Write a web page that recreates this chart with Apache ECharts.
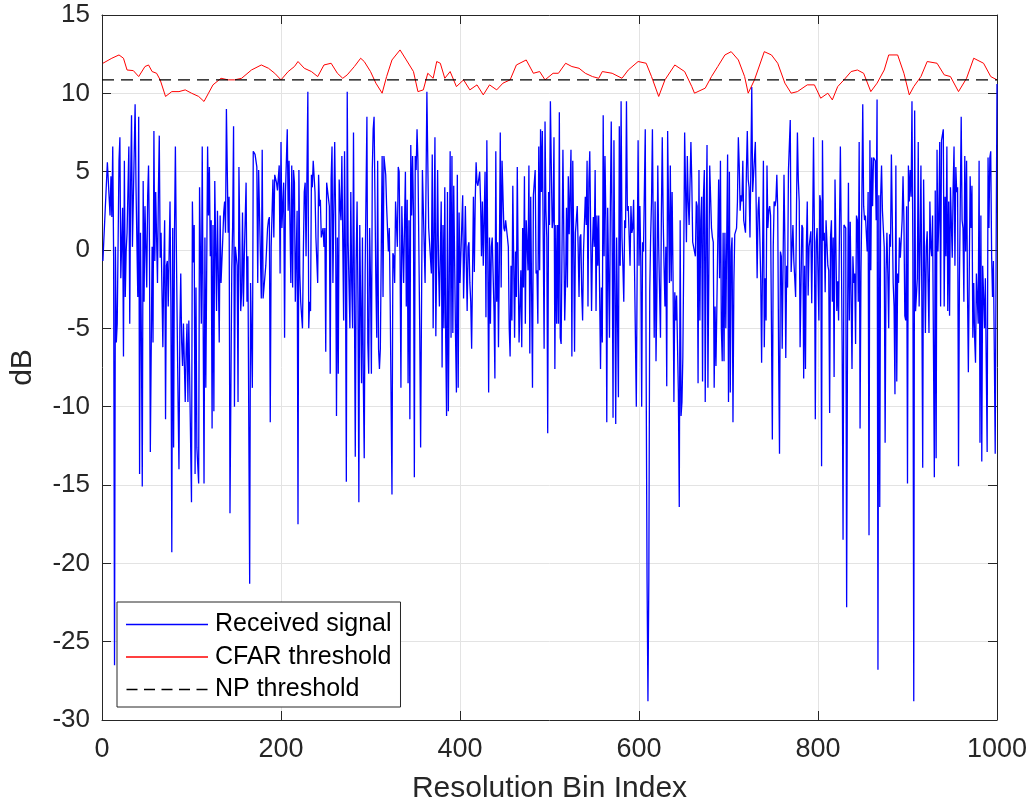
<!DOCTYPE html>
<html>
<head>
<meta charset="utf-8">
<script src="https://cdn.jsdelivr.net/npm/echarts@6/dist/echarts.min.js"></script>
<style>
html,body{margin:0;padding:0;background:#fff;}
#chart{width:1032px;height:809px;}
</style>
</head>
<body>
<div id="chart"></div>
<script>
// ---- data ----
const seriesNames = ['Received signal', 'CFAR threshold', 'NP threshold'];
const xTicks = [0, 200, 400, 600, 800, 1000];
const yTicks = [-30, -25, -20, -15, -10, -5, 0, 5, 10, 15];

// Received signal: [bin index, dB]
const receivedSignal = [
[1,-0.7],[6,5.6],[8,5.7],[9,2.2],[10,4.7],[11,2.1],[12,6.6],[13,-0.5],[14,-26.5],[15,0.2],[16,-5.9],[17,-4.7],[19,5.7],[20,7.2],[21,-1.8],[23,2.7],[24,-6.8],[25,5.7],[26,-3.0],[27,-0.1],[28,1.1],[30,6.6],[31,-4.7],[32,4.3],[33,8.6],[34,0.2],[37,9.3],[38,4.0],[40,-3.0],[41,8.5],[42,-14.3],[43,1.1],[44,-5.6],[45,-15.1],[46,4.4],[47,-3.3],[48,2.8],[50,-2.4],[51,3.4],[52,5.4],[53,0.5],[54,-12.9],[56,0.2],[57,-5.9],[58,7.6],[59,-0.7],[60,3.7],[62,-2.1],[63,3.7],[64,7.3],[65,-0.5],[66,1.1],[68,-6.2],[69,-1.3],[70,1.9],[71,-10.8],[72,-1.0],[73,-0.7],[74,-3.6],[76,3.1],[77,-3.6],[78,-19.3],[79,1.4],[80,-12.6],[81,1.1],[82,6.6],[83,0.5],[85,-9.7],[86,-14.0],[87,-5.0],[88,-1.5],[89,-5.9],[90,-7.4],[91,-4.7],[93,-9.7],[94,-6.5],[95,-4.7],[96,-9.7],[97,-4.5],[98,-4.5],[100,-16.1],[101,3.1],[102,-0.8],[103,1.6],[104,-14.3],[105,-2.4],[106,-12.6],[108,-14.9],[109,4.0],[110,4.0],[111,-4.7],[112,6.6],[113,6.6],[114,-14.9],[115,0.8],[116,-8.8],[118,6.6],[119,2.2],[120,5.3],[121,-0.4],[122,1.9],[123,-11.4],[124,1.6],[125,-10.3],[126,4.4],[128,-3.9],[129,2.5],[131,-5.9],[132,2.2],[133,-2.1],[135,0.8],[136,2.4],[137,3.1],[138,1.1],[139,9.0],[141,1.1],[142,3.4],[143,-16.8],[145,-1.3],[146,1.6],[147,7.9],[148,-10.0],[149,0.2],[151,-1.0],[152,-9.7],[153,5.3],[155,-3.9],[156,-2.7],[157,2.4],[158,-3.6],[159,-0.4],[161,4.3],[162,-3.3],[163,-0.4],[165,-21.3],[166,-2.1],[168,-8.8],[169,6.3],
[171,6.1],[173,5.3],[174,-2.1],[175,5.1],[178,-3.1],[179,6.4],[180,-3.1],[183,-1.0],[185,1.4],[186,1.9],[187,2.1],[188,-11.0],[189,0.2],[191,4.5],[192,0.8],[193,4.8],[195,4.3],[196,3.8],[198,5.4],[199,-1.5],[200,6.9],[201,1.4],[203,4.3],[204,-5.6],[205,3.7],[207,7.7],[208,2.5],[209,5.7],[211,-2.1],[212,5.4],[213,-2.4],[214,5.1],[215,4.3],[216,-3.3],[218,2.5],[219,-17.5],[220,5.1],[221,-1.5],[222,-3.3],[224,-5.0],[225,-0.1],[226,3.7],[227,4.3],[228,-0.4],[230,10.1],[231,-5.0],[232,-3.3],[233,-3.9],[234,4.8],[235,4.0],[236,5.7],[238,3.7],[239,0.8],[240,0.8],[241,-2.1],[242,4.8],[243,2.8],[244,3.2],[245,0.8],[247,1.4],[248,0.2],[249,1.4],[250,-6.5],[251,4.3],[252,4.3],[254,2.8],[255,-7.9],[256,4.5],[257,6.6],[258,-2.1],[260,6.9],[261,2.2],[262,-10.6],[263,0.8],[264,-7.9],[265,4.5],[266,2.8],[267,1.9],[268,6.0],[270,-4.5],[271,6.3],[272,-0.4],[273,-14.8],[274,10.1],[275,0.5],[277,-5.0],[278,3.7],[279,-2.1],[280,-5.0],[281,7.5],[283,-13.2],[284,-0.7],[285,3.1],[286,-3.3],[287,-16.1],[288,1.6],[290,-8.5],[291,0.8],[292,-8.5],[293,-13.3],[294,-1.4],[296,8.5],[297,-5.9],[298,-7.9],[299,1.4],[300,-1.8],[301,-7.9],[302,5.1],[303,7.7],[304,8.5],[306,-2.1],[307,-5.6],[308,5.7],[309,-6.3],[310,-7.6],[311,-6.3],[313,6.0],[314,-3.0],[315,6.0],[316,5.9],[317,4.8],[318,2.8],[320,-0.1],[321,1.4],[322,-3.3],[324,-15.6],[325,-0.2],[326,-0.4],[327,-2.1],[328,3.1],[330,0.2],[331,5.3],[332,5.0],[333,-0.4],[334,-8.8],[335,2.8],
[336,2.8],[337,-2.1],[338,1.6],[339,5.0],[340,-3.6],[341,3.2],[342,-8.5],[343,1.9],[344,-10.8],[345,6.7],[346,2.2],[347,6.0],[348,2.5],[349,-14.5],[350,6.0],[351,5.1],[352,7.7],[353,5.7],[355,-5.0],[356,-12.6],[358,5.1],[361,-2.1],[363,10.1],[365,1.4],[366,1.4],[368,-1.5],[369,6.1],[370,-5.0],[372,7.2],[373,-5.5],[375,5.1],[376,-1.0],[377,-3.6],[379,3.1],[380,-7.5],[381,1.6],[382,-5.0],[383,4.0],[384,-5.6],[385,-10.6],[386,3.7],[387,-10.3],[389,6.3],[390,-5.6],[391,6.0],[392,-5.3],[393,4.1],[395,-5.5],[396,-9.1],[397,4.8],[398,-8.8],[399,2.4],[400,-2.1],[402,1.6],[403,3.5],[404,-3.1],[405,-0.4],[406,2.8],[408,-3.9],[409,0.2],[410,0.5],[411,-2.1],[412,-3.3],[413,-6.3],[415,3.4],[416,-1.4],[417,3.1],[418,5.6],[419,4.3],[420,4.1],[422,5.0],[423,3.1],[424,-0.4],[425,3.1],[426,-1.0],[428,5.0],[429,-4.3],[430,7.0],[431,0.0],[432,-9.1],[433,0.8],[434,-4.7],[435,0.2],[436,0.8],[438,-3.9],[439,-8.2],[440,6.3],[441,-3.3],[442,0.5],[443,-6.2],[444,-0.5],[445,7.5],[446,-2.4],[447,5.7],[448,5.7],[449,1.4],[450,1.2],[451,1.9],[453,0.8],[454,0.2],[455,-5.0],[456,-6.8],[457,-1.0],[458,-4.5],[459,4.1],[461,-5.6],[462,-0.1],[463,-3.0],[464,5.3],[465,-1.0],[466,-5.9],[468,-1.3],[469,-6.2],[470,1.4],[471,-2.4],[472,4.7],[473,-4.7],[474,1.9],[476,-1.3],[477,5.4],[478,-6.6],[479,3.4],[480,3.4],[481,-8.8],[482,3.5],[484,5.1],[485,-1.5],[486,-1.3],[487,-4.7],[488,6.6],[489,-1.3],[490,7.7],[491,3.7],[492,7.6],[494,-6.3],[495,8.2],[496,2.5],[497,0.8],[498,-11.7],[499,3.7],[500,1.6],[501,9.5],
[503,1.4],[504,1.9],[505,7.2],[506,-7.6],[507,1.6],[508,-4.7],[509,1.6],[510,-4.7],[511,8.8],[512,-5.6],[513,-6.0],[515,6.4],[516,0.8],[517,-4.5],[518,-2.1],[519,2.7],[520,-2.4],[521,4.7],[522,1.0],[524,6.4],[525,-6.8],[526,5.7],[527,0.8],[528,-6.5],[529,1.1],[531,2.8],[532,0.2],[533,-3.0],[534,0.8],[535,1.0],[536,-2.7],[537,-4.5],[538,-0.1],[540,3.4],[541,1.6],[542,5.7],[543,-3.6],[544,4.3],[545,6.3],[547,-3.9],[548,0.2],[549,2.1],[550,0.2],[551,5.1],[552,-3.9],[553,2.2],[554,-1.0],[555,2.2],[557,-7.6],[558,-2.4],[559,-5.9],[560,8.6],[561,-0.4],[562,6.0],[563,1.9],[564,-11.0],[565,2.7],[567,-5.6],[568,2.8],[569,8.2],[570,1.1],[571,-10.7],[572,7.0],[573,-2.1],[574,-11.1],[575,0.8],[577,-9.4],[578,7.9],[579,-1.0],[580,9.5],[581,0.8],[582,-1.0],[583,-3.3],[584,1.9],[585,1.4],[586,9.5],[587,2.5],[588,2.8],[590,-1.0],[591,2.8],[592,1.1],[593,1.4],[594,3.2],[595,3.1],[597,-10.0],[598,-0.7],[599,7.0],[600,-1.0],[601,2.8],[602,-0.7],[603,-10.0],[604,0.5],[605,-0.1],[607,7.7],[608,-7.9],[609,-21.0],[610,-28.8],[611,-21.0],[612,-2.7],[613,0.8],[614,3.1],[615,7.7],[616,0.8],[617,-5.6],[618,3.1],[619,-7.1],[620,-2.7],[621,5.4],[622,0.2],[624,-5.6],[625,2.2],[626,7.2],[627,2.1],[628,-1.0],[629,-3.6],[630,0.2],[631,-8.7],[632,7.6],[634,-2.1],[635,5.4],[636,-2.0],[637,3.7],[638,-1.5],[639,-9.7],[640,-2.7],[641,-4.5],[642,-2.9],[644,-9.1],[645,-16.4],[646,1.9],[647,-10.6],[648,-9.7],[649,-6.8],[650,-0.5],[651,7.5],[653,0.5],[654,6.0],[655,3.1],[656,1.6],[657,1.6],[658,6.9],[659,4.3],[660,0.5],[661,0.5],[663,-0.4],[664,3.1],[665,2.8],[666,-8.5],[667,5.1],[668,-4.5],[669,1.9],
[670,3.4],[671,-8.4],[672,3.4],[673,5.1],[674,-9.7],[675,1.1],[676,6.7],[677,-8.8],[679,5.4],[680,5.4],[681,1.4],[682,0.8],[683,0.5],[684,-8.8],[685,-3.6],[686,-7.4],[687,-3.6],[689,4.5],[690,-1.8],[691,5.7],[692,-5.0],[693,-7.1],[694,1.1],[695,-7.1],[696,1.1],[697,-5.0],[699,6.1],[700,-9.7],[701,5.0],[702,-9.1],[703,-0.1],[704,0.8],[705,-11.0],[706,-2.1],[707,1.0],[709,1.4],[710,3.1],[711,7.2],[712,5.4],[713,2.5],[714,3.5],[715,3.1],[716,5.7],[717,1.9],[719,1.1],[720,5.0],[721,7.6],[722,4.5],[723,4.0],[724,0.8],[725,5.4],[726,10.4],[727,3.7],[729,3.7],[730,6.9],[731,2.5],[732,-1.8],[733,2.5],[734,3.4],[735,0.8],[736,-1.8],[737,-7.2],[739,5.7],[740,-6.2],[741,-1.8],[742,-4.5],[743,5.4],[744,1.4],[745,2.5],[746,2.8],[747,2.2],[749,-12.1],[750,0.2],[751,3.1],[752,2.8],[753,3.2],[754,4.8],[755,2.5],[756,-6.8],[757,-13.0],[758,-0.1],[759,-0.4],[760,-6.3],[762,4.8],[763,0.5],[764,-6.9],[765,-1.0],[766,-2.4],[767,5.1],[768,5.1],[769,8.3],[770,-1.4],[772,1.6],[773,-0.7],[774,-1.8],[775,-3.0],[776,2.8],[777,7.5],[778,4.5],[779,3.1],[780,-6.2],[782,1.6],[783,1.4],[784,-8.2],[785,-1.0],[786,-7.6],[787,0.2],[788,3.1],[789,-2.9],[790,0.2],[792,1.2],[793,-3.4],[794,1.1],[795,7.2],[796,1.1],[797,-10.8],[798,0.5],[799,1.4],[801,-4.5],[802,3.5],[803,3.1],[804,-13.8],[805,7.0],[806,0.6],[807,1.1],[808,-2.7],[809,1.9],[811,-1.0],[812,-1.3],[813,-10.4],[814,0.8],[815,1.9],[816,-3.3],[817,0.8],[818,-8.1],[819,4.5],[821,-3.9],[822,-2.0],[823,-4.5],[824,1.4],[825,6.6],[826,0.8],[827,-6.3],[828,-18.5],[829,1.6],[831,1.4],[832,-22.8],[833,-5.0],[834,4.3],[835,-4.5],[836,1.8],
[837,1.8],[838,-7.6],[839,-0.4],[840,-2.1],[841,-1.5],[842,-6.0],[843,2.2],[844,1.9],[845,-3.3],[846,6.9],[847,-11.4],[848,-1.5],[849,3.1],[850,9.3],[851,2.8],[852,1.9],[853,2.2],[855,-0.1],[856,3.7],[857,-18.2],[858,7.0],[859,-1.3],[860,5.9],[861,2.8],[862,5.9],[864,5.7],[865,1.9],[866,9.6],[867,-26.8],[868,3.5],[869,-16.4],[870,3.4],[871,5.4],[872,2.5],[874,0.2],[875,-12.3],[876,-1.5],[877,1.1],[878,-1.5],[879,-5.0],[880,1.0],[881,0.2],[882,6.1],[884,-2.1],[885,-3.6],[886,-9.2],[887,5.4],[888,-8.4],[889,-1.5],[890,-2.1],[891,0.8],[892,-0.5],[894,1.9],[895,4.7],[896,1.9],[897,-4.2],[898,-4.5],[899,2.8],[900,-14.9],[901,5.4],[902,3.1],[903,5.1],[904,3.4],[905,9.5],[906,-0.1],[907,-28.8],[908,8.9],[909,-3.9],[911,-1.8],[912,6.9],[913,-3.6],[914,-0.1],[915,5.4],[916,-2.9],[917,-13.9],[918,4.5],[920,-5.3],[921,0.2],[922,1.2],[923,-2.1],[924,-5.3],[925,3.1],[926,0.2],[927,-0.4],[928,2.2],[930,-14.5],[931,3.8],[932,-13.3],[933,6.4],[934,-0.1],[935,1.9],[936,6.9],[937,-3.6],[938,7.0],[940,7.7],[941,-3.6],[942,3.4],[943,-0.4],[944,6.6],[945,-3.9],[946,3.1],[947,-4.2],[948,4.0],[950,-0.5],[951,4.0],[952,6.6],[953,-1.0],[954,5.3],[955,3.7],[956,4.0],[957,-13.8],[958,-2.1],[960,8.5],[961,1.9],[962,1.4],[963,-3.3],[964,6.0],[965,-0.1],[966,5.7],[967,-2.4],[968,-7.8],[970,4.7],[971,1.4],[972,4.1],[973,-5.6],[974,-2.1],[975,-5.6],[976,-7.2],[977,-1.5],[979,-4.7],[980,5.7],[981,-12.3],[982,2.2],[983,-13.5],[984,-1.0],[985,-2.9],[986,-5.0],[987,-1.8],[989,-12.9],[990,5.9],[991,1.4],[992,5.9],[993,6.3],[994,-0.4],[995,-3.0],[996,-0.7],[997,-6.5],[998,-13.0],[999,-0.4],[1000,10.6]
];

// CFAR threshold: [bin index, dB]
const cfarThreshold = [
[1,11.92],[11,12.24],[19,12.45],[24,12.24],[28,11.49],[35,11.45],[41,11.07],[48,11.71],[52,11.81],[56,11.39],[61,11.28],[65,10.86],[71,9.80],[78,10.11],[86,10.11],[93,10.22],[100,10.01],[108,9.80],[114,9.48],[119,10.01],[124,10.54],[133,10.96],[141,10.86],[148,10.86],[156,10.96],[167,11.49],[178,11.81],[186,11.60],[193,11.28],[200,10.86],[208,11.39],[215,11.71],[219,12.03],[226,11.60],[234,11.39],[241,11.07],[248,11.81],[256,11.92],[263,11.28],[269,10.96],[274,11.18],[282,11.71],[289,12.24],[293,12.03],[300,11.39],[306,10.65],[313,10.01],[318,11.07],[324,12.13],[333,12.77],[340,12.13],[348,11.39],[353,10.11],[359,10.22],[364,11.28],[370,10.96],[374,12.03],[378,11.92],[383,10.96],[389,11.39],[396,10.43],[404,10.86],[411,10.22],[419,10.54],[426,9.90],[433,10.54],[441,10.22],[448,10.65],[456,10.86],[463,11.81],[474,12.13],[482,11.28],[489,11.39],[495,10.86],[504,11.28],[510,11.28],[518,11.92],[525,11.71],[533,11.60],[540,11.28],[548,11.07],[555,10.96],[559,11.39],[570,11.28],[581,10.96],[588,11.49],[599,12.03],[608,11.92],[614,11.07],[622,9.80],[629,10.86],[640,11.81],[651,11.39],[659,10.43],[662,10.01],[674,10.33],[681,11.07],[688,11.71],[696,12.45],[703,12.66],[711,12.13],[718,11.07],[722,10.01],[729,10.86],[740,12.66],[748,12.45],[755,11.92],[763,10.65],[770,10.01],[777,10.11],[788,10.54],[796,10.54],[803,9.69],[811,10.01],[816,9.58],[822,10.43],[829,10.86],[837,11.39],[844,11.49],[851,11.28],[859,10.11],[866,10.65],[874,11.49],[879,12.45],[889,12.45],[896,11.28],[902,9.90],[907,10.43],[915,11.07],[922,12.03],[933,11.92],[941,11.18],[948,11.07],[957,10.11],[966,10.96],[974,12.24],[985,11.92],[993,11.07],[1000,10.86]
];

// Neyman-Pearson threshold (constant)
const npBins = [0, 1000];
const npLevel = [10.86, 10.86];

// ---- chart ----
const FONT = "'Liberation Sans', Arial, Helvetica, sans-serif";
const TXT = '#262626';
const chart = echarts.init(document.getElementById('chart'), null, {renderer: 'canvas'});

const baseX = {
  type: 'value', min: 0, max: 1000, interval: 200,
  axisLine: {show: true, onZero: false, lineStyle: {color: TXT, width: 1}},
  axisTick: {show: true, inside: true, length: 9, lineStyle: {color: TXT}},
};
const baseY = {
  type: 'value', min: -30, max: 15, interval: 5,
  axisLine: {show: true, onZero: false, lineStyle: {color: TXT, width: 1}},
  axisTick: {show: true, inside: true, length: 9, lineStyle: {color: TXT}},
};

// legend glyphs: solid bar, and a five-dash bar
const solidIcon = 'path://M0,0H82V1.3H0Z';
const dashIcon = 'path://M0,0H11V1.3H0Z M17.5,0H28.5V1.3H17.5Z M35,0H46V1.3H35Z M52.5,0H63.5V1.3H52.5Z M70,0H81V1.3H70Z';

chart.setOption({
  animation: false,
  backgroundColor: '#fff',
  textStyle: {fontFamily: FONT},
  grid: {left: 101, right: 35, top: 15, bottom: 87, containLabel: false},
  xAxis: [
    Object.assign({}, baseX, {
      position: 'bottom',
      name: 'Resolution Bin Index', nameLocation: 'middle', nameGap: 54,
      nameTextStyle: {fontSize: 30, color: TXT, fontFamily: FONT},
      axisLabel: {fontSize: 27, color: TXT, margin: 16, fontFamily: FONT,
        formatter: v => xTicks.includes(v) ? String(v) : ''},
      splitLine: {show: true, lineStyle: {color: '#e3e3e3', width: 1}}
    }),
    Object.assign({}, baseX, {
      position: 'top', axisLabel: {show: false}, splitLine: {show: false}
    })
  ],
  yAxis: [
    Object.assign({}, baseY, {
      position: 'left',
      name: 'dB', nameLocation: 'middle', nameGap: 64, nameRotate: 90,
      nameTextStyle: {fontSize: 30, color: TXT, fontFamily: FONT},
      axisLabel: {fontSize: 26, color: TXT, margin: 12, fontFamily: FONT,
        formatter: v => yTicks.includes(v) ? String(v) : ''},
      splitLine: {show: true, lineStyle: {color: '#e3e3e3', width: 1}}
    }),
    Object.assign({}, baseY, {
      position: 'right', axisLabel: {show: false}, splitLine: {show: false}
    })
  ],
  legend: {
    show: true,
    orient: 'vertical',
    left: 117, top: 602,
    data: [
      {name: seriesNames[0], icon: solidIcon},
      {name: seriesNames[1], icon: solidIcon},
      {name: seriesNames[2], icon: dashIcon}
    ],
    itemWidth: 82, itemHeight: 1.3, itemGap: 7.5,
    padding: [10, 9, 5, 9],
    borderColor: TXT, borderWidth: 1, borderRadius: 0,
    backgroundColor: '#fff',
    textStyle: {fontSize: 25, color: '#000', fontFamily: FONT, lineHeight: 24, padding: [0, 0, 0, 2]}
  },
  series: [
    {
      name: seriesNames[0], type: 'line', xAxisIndex: 0, yAxisIndex: 0,
      data: receivedSignal, showSymbol: false, symbol: 'none',
      lineStyle: {color: '#0000ff', width: 1.3}, itemStyle: {color: '#0000ff'},
      z: 2, silent: true
    },
    {
      name: seriesNames[1], type: 'line', xAxisIndex: 0, yAxisIndex: 0,
      data: cfarThreshold, showSymbol: false, symbol: 'none',
      lineStyle: {color: '#ff0000', width: 1}, itemStyle: {color: '#ff0000'},
      z: 3, silent: true
    },
    {
      name: seriesNames[2], type: 'line', xAxisIndex: 0, yAxisIndex: 0,
      data: npBins.map((b, i) => [b, npLevel[i]]), showSymbol: false, symbol: 'none',
      lineStyle: {color: '#000000', width: 1.3, type: [12, 7]}, itemStyle: {color: '#000000'},
      z: 4, silent: true
    }
  ]
});
</script>
</body>
</html>
